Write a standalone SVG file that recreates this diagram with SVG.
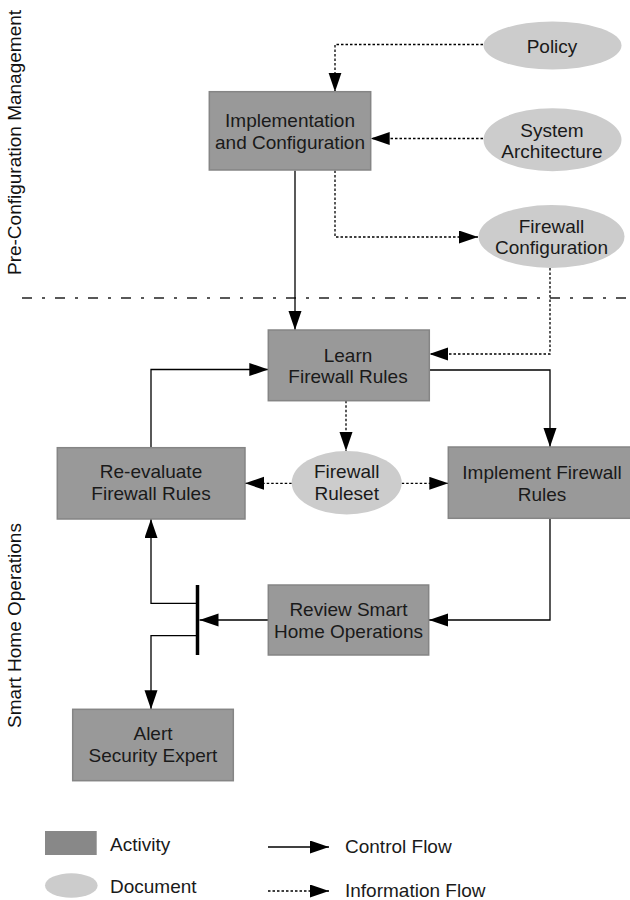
<svg xmlns="http://www.w3.org/2000/svg" width="630" height="900" viewBox="0 0 630 900">
<style>
text{font-family:"Liberation Sans",Arial,sans-serif;font-size:19px;fill:#1a1a1a}
.c{text-anchor:middle}
.act{fill:#999999;stroke:#858585;stroke-width:1.5}
.doc{fill:#cccccc;stroke:none}
.ctl{fill:none;stroke:#000;stroke-width:1.3;marker-end:url(#ah)}
.inf{fill:none;stroke:#000;stroke-width:1.3;stroke-dasharray:2.5 2;marker-end:url(#ah)}
.lane{font-size:19px;fill:#111}
</style>
<defs>
<marker id="ah" markerUnits="userSpaceOnUse" markerWidth="20" markerHeight="14" refX="19" refY="6.5" orient="auto">
<path d="M0,0 L19,6.5 L0,13 z" fill="#000"/>
</marker>
</defs>
<rect width="630" height="900" fill="#fff"/>

<g id="lanes">
<text class="lane c" transform="translate(20.5,142.5) rotate(-90)">Pre-Configuration Management</text>
<text class="lane c" transform="translate(20.5,625.5) rotate(-90)">Smart Home Operations</text>
<line x1="22" y1="298" x2="630" y2="298" stroke="#222" stroke-width="1.5" stroke-dasharray="10 10 3 10"/>
</g>

<g id="connectors">
<path class="inf" d="M483,44.5 H335 V91.7"/>
<path class="inf" d="M483,138.5 H370.7"/>
<path class="inf" d="M335,170.5 V237 H478"/>
<path class="ctl" d="M295,170.5 V330"/>
<path class="inf" d="M550,268 V354 H429.3"/>
<path class="ctl" d="M151,447.7 V369.5 H268.3"/>
<path class="ctl" d="M429.3,370 H550 V447"/>
<path class="inf" d="M346,400.7 V451"/>
<path class="inf" d="M291.7,483.3 H245"/>
<path class="inf" d="M401.7,483.3 H448.3"/>
<path class="ctl" d="M550,518.3 V620 H429"/>
<path class="ctl" d="M268.3,620 H199.5"/>
<path class="ctl" d="M197,603.3 H151 V519"/>
<path class="ctl" d="M197,635.7 H151 V709.3"/>
</g>

<g id="policy">
<ellipse class="doc" cx="552.5" cy="45.5" rx="69" ry="24"/>
<text class="c" x="552" y="53.3">Policy</text>
</g>
<g id="system-architecture">
<ellipse class="doc" cx="552.5" cy="139.7" rx="69" ry="31.5"/>
<text class="c" x="552" y="137.3">System</text>
<text class="c" x="552" y="157.7">Architecture</text>
</g>
<g id="firewall-configuration">
<ellipse class="doc" cx="551.5" cy="236.5" rx="73" ry="31.5"/>
<text class="c" x="551.5" y="233.3">Firewall</text>
<text class="c" x="551.5" y="254">Configuration</text>
</g>
<g id="implementation-configuration">
<rect class="act" x="209.3" y="91.7" width="161.4" height="78.3"/>
<text class="c" x="290" y="127">Implementation</text>
<text class="c" x="290" y="149">and Configuration</text>
</g>
<g id="learn-firewall-rules">
<rect class="act" x="268.3" y="330" width="161" height="70.7"/>
<text class="c" x="348" y="362.3">Learn</text>
<text class="c" x="348" y="382.7">Firewall Rules</text>
</g>
<g id="firewall-ruleset">
<ellipse class="doc" cx="346.7" cy="482.7" rx="55" ry="31.7"/>
<text class="c" x="346.7" y="478.3">Firewall</text>
<text class="c" x="346.7" y="500">Ruleset</text>
</g>
<g id="re-evaluate-firewall-rules">
<rect class="act" x="57.3" y="447.7" width="187.7" height="71.3"/>
<text class="c" x="151" y="478.3">Re-evaluate</text>
<text class="c" x="151" y="500">Firewall Rules</text>
</g>
<g id="implement-firewall-rules">
<rect class="act" x="448.3" y="447" width="188" height="71.3"/>
<text class="c" x="542" y="479">Implement Firewall</text>
<text class="c" x="542" y="500.7">Rules</text>
</g>
<g id="review-smart-home-operations">
<rect class="act" x="268.3" y="585" width="160.4" height="70"/>
<text class="c" x="348.5" y="616">Review Smart</text>
<text class="c" x="348.5" y="638">Home Operations</text>
</g>
<g id="decision-bar">
<line x1="197.5" y1="585" x2="197.5" y2="655" stroke="#000" stroke-width="3.5"/>
</g>
<g id="alert-security-expert">
<rect class="act" x="72.7" y="709.3" width="160.6" height="71.4"/>
<text class="c" x="153" y="740">Alert</text>
<text class="c" x="153" y="761.7">Security Expert</text>
</g>

<g id="legend">
<rect x="45" y="831" width="51.7" height="24" fill="#888888"/>
<text x="110" y="850.7">Activity</text>
<ellipse cx="71.3" cy="885.5" rx="26.3" ry="12.3" fill="#cccccc"/>
<text x="110" y="892.7">Document</text>
<path class="ctl" d="M268,847 H329"/>
<text x="345" y="852.7">Control Flow</text>
<path class="inf" d="M268,891 H329" stroke-width="1" stroke-dasharray="2 1.5"/>
<text x="345" y="896.7">Information Flow</text>
</g>
</svg>
